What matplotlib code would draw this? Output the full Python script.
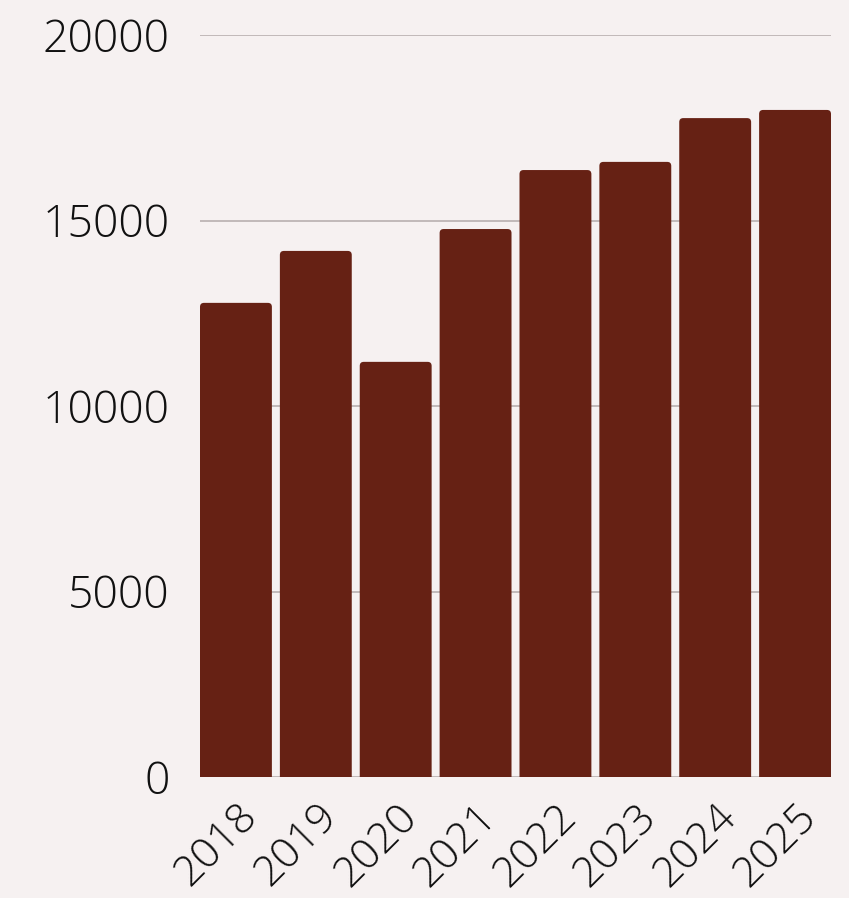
import matplotlib
matplotlib.use("Agg")
import matplotlib.pyplot as plt
from matplotlib.patches import FancyBboxPatch

years = ["2018", "2019", "2020", "2021", "2022", "2023", "2024", "2025"]
values = [12780, 14180, 11190, 14770, 16360, 16580, 17760, 17980]
yticks = [0, 5000, 10000, 15000, 20000]

BG = "#f6f1f1"
BAR = "#662114"

plt.rcParams['font.family'] = ['Open Sans', 'DejaVu Sans']

fig = plt.figure(figsize=(8.49, 8.98), dpi=100, facecolor=BG)
ax = fig.add_axes([200/849, 1-777/898, 631/849, 742/898])
ax.set_facecolor(BG)

ax.set_xlim(-0.45, len(years) - 0.55)
ax.set_ylim(0, 20000)

xpx = (len(years) - 0.1) / 631
ypx = 20000 / 742
w = 0.9
for i, v in enumerate(values):
    p = FancyBboxPatch((i - w/2, -400), w, v + 400,
                       boxstyle=f"round,pad=0,rounding_size={4*xpx}",
                       mutation_aspect=ypx/xpx,
                       facecolor=BAR, edgecolor="none", zorder=3)
    ax.add_patch(p)

ax.set_yticks(yticks)
ax.set_yticklabels([str(t) for t in yticks], fontsize=32, fontweight=200, color='#111111')
ax.set_xticks(range(len(years)))
ax.set_xticklabels(years, fontsize=31, fontweight=200, color='#111111',
                   rotation=45, ha='right', rotation_mode='anchor')
ax.tick_params(axis='both', length=0)
ax.tick_params(axis='y', pad=22)
ax.tick_params(axis='x', pad=13)
ax.grid(axis='y', color='#bdb5b5', linewidth=1.3, zorder=0)
for s in ax.spines.values():
    s.set_visible(False)

fig.savefig("out.png", dpi=100, facecolor=BG)
